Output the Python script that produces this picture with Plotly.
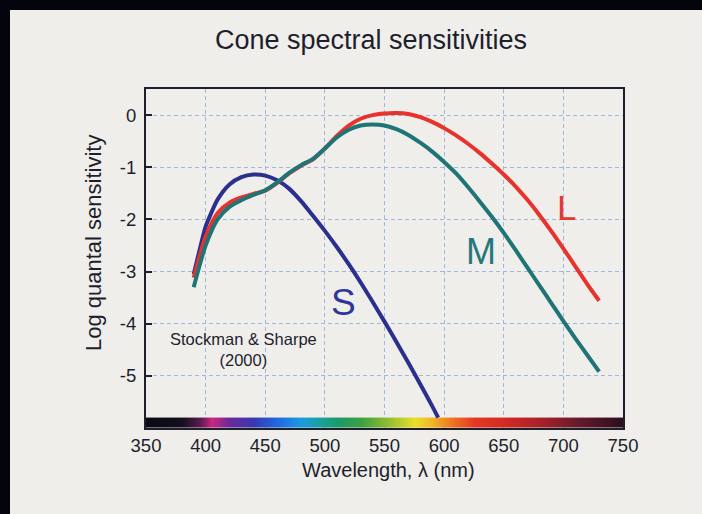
import plotly.graph_objects as go

# ---- data ----
nm_LM = [390, 395, 400, 410, 420, 430, 440, 450, 460, 470, 480, 490, 500, 510, 520, 530,
         540, 550, 560, 570, 580, 590, 600, 610, 620, 630, 640, 650, 660, 670, 680, 690,
         700, 710, 720, 730]
L_log = [-3.12, -2.70, -2.33, -1.88, -1.68, -1.58, -1.51, -1.45, -1.30, -1.12, -0.97, -0.85,
         -0.64, -0.40, -0.20, -0.07, 0.00, 0.03, 0.04, 0.02, -0.04, -0.13, -0.25, -0.39,
         -0.55, -0.73, -0.93, -1.14, -1.37, -1.63, -1.92, -2.23, -2.56, -2.90, -3.24, -3.56]
M_log = [-3.30, -2.88, -2.50, -2.00, -1.76, -1.63, -1.53, -1.44, -1.29, -1.11, -0.96, -0.84,
         -0.64, -0.43, -0.28, -0.20, -0.18, -0.20, -0.27, -0.38, -0.53, -0.70, -0.90, -1.12,
         -1.38, -1.66, -1.95, -2.26, -2.59, -2.93, -3.27, -3.61, -3.95, -4.28, -4.60, -4.92]
nm_S = [390, 395, 400, 405, 410, 420, 430, 440, 450, 460, 470, 480, 490, 500, 510, 520,
        530, 540, 550, 560, 570, 580, 590, 595]
S_log = [-3.05, -2.58, -2.14, -1.86, -1.62, -1.33, -1.19, -1.14, -1.16, -1.25, -1.41, -1.65,
         -1.93, -2.22, -2.53, -2.86, -3.21, -3.58, -3.96, -4.35, -4.75, -5.16, -5.58, -5.80]

x_ticks = [350, 400, 450, 500, 550, 600, 650, 700, 750]
y_ticks = [0, -1, -2, -3, -4, -5]
y_ticklabels = ["0", "-1", "-2", "-3", "-4", "-5"]

# spectrum strip (wavelength -> colour stops)
spectrum_nm = [350, 380, 395, 405, 420, 440, 460, 480, 495, 510, 530, 555, 575, 590, 605,
               625, 650, 680, 710, 750]
spectrum_col = ["#0a0a12", "#15101c", "#5a1a50", "#c8287c", "#6a2a9a", "#3838b0", "#1f6ae0",
                "#1e9ae0", "#1aa0a0", "#1c9a6a", "#3aa040", "#9ac030", "#e8e028", "#f2b428",
                "#ee7a22", "#e23a22", "#d42a22", "#a82228", "#6a1a2c", "#2a0e1c"]
strip_x = list(range(350, 751, 2))
strip_bottom, strip_height = -6.0, 0.2

colorscale = [[(w - 350) / 400, c] for w, c in zip(spectrum_nm, spectrum_col)]

fig = go.Figure()

fig.add_trace(go.Heatmap(
    x=strip_x, y0=strip_bottom + strip_height / 2, dy=strip_height, z=[strip_x],
    colorscale=colorscale, zmin=350, zmax=750, showscale=False,
    hoverinfo="skip", zsmooth="best"))

LW = 4
spl = dict(shape="spline", smoothing=0.7)
fig.add_trace(go.Scatter(x=nm_S, y=S_log, mode="lines", line=dict(color="#2b2f8e", width=LW, **spl), hoverinfo="skip"))
fig.add_trace(go.Scatter(x=nm_LM, y=L_log, mode="lines", line=dict(color="#e8322c", width=LW, **spl), hoverinfo="skip"))
fig.add_trace(go.Scatter(x=nm_LM, y=M_log, mode="lines", line=dict(color="#1f7576", width=LW, **spl), hoverinfo="skip"))

panel = "#efeeeb"
dark = "#04050c"
ink = "#1e1f2c"
grid = "#9db7e0"
FONT = "Liberation Sans, Arial, Helvetica, sans-serif"

fig.update_layout(
    width=702, height=514, autosize=False,
    margin=dict(l=146, r=79, t=89, b=86),
    paper_bgcolor=panel, plot_bgcolor=panel,
    showlegend=False,
    font=dict(family=FONT, color=ink, size=18),
    title=dict(text="Cone spectral sensitivities", x=371 / 702, xanchor="center",
               y=1 - 40 / 514, yanchor="middle", font=dict(size=27, color=ink, family=FONT)),
    xaxis=dict(range=[350, 750], tickvals=x_ticks, ticktext=[str(v) for v in x_ticks],
               showgrid=True, gridcolor=grid, griddash="4px,3px", gridwidth=1,
               showline=True, mirror=True, linecolor=ink, linewidth=2,
               ticks="", zeroline=False, tickfont=dict(size=18.5, color=ink)),
    yaxis=dict(range=[-6, 0.5], tickvals=y_ticks, ticktext=y_ticklabels,
               showgrid=True, gridcolor=grid, griddash="4px,3px", gridwidth=1,
               showline=True, mirror=True, linecolor=ink, linewidth=2,
               ticks="inside", ticklen=6, tickcolor=ink, tickwidth=1.5,
               zeroline=False, tickfont=dict(size=18.5, color=ink), ticklabelstandoff=4),
)

# dark surround (left and top strips)
fig.add_shape(type="rect", xref="paper", yref="paper",
              x0=(0 - 146) / 477, x1=(10 - 146) / 477, y0=(428 - 514) / 339, y1=(428 - 0) / 339,
              fillcolor=dark, line_width=0, layer="below")
fig.add_shape(type="rect", xref="paper", yref="paper",
              x0=(0 - 146) / 477, x1=(702 - 146) / 477, y0=(428 - 10) / 339, y1=(428 - 0) / 339,
              fillcolor=dark, line_width=0, layer="below")
# light panel on the right edge, drawn above everything
fig.add_shape(type="rect", xref="paper", yref="paper",
              x0=(660 - 146) / 477, x1=(710 - 146) / 477, y0=(428 - 520) / 339, y1=(428 - 10) / 339,
              fillcolor=panel, line_width=0, layer="above")

anns = [
    dict(text="S", x=516, y=-3.6, font=dict(size=37, color="#2d3796")),
    dict(text="M", x=631, y=-2.62, font=dict(size=36, color="#23787a")),
    dict(text="L", x=703, y=-1.77, font=dict(size=35, color="#e5392f")),
    dict(text="Stockman & Sharpe<br>(2000)", x=431.5, y=-4.5, font=dict(size=16.5, color=ink)),
]
for a in anns:
    fig.add_annotation(xref="x", yref="y", showarrow=False, xanchor="center", yanchor="middle",
                       font_family=FONT, **a)

fig.add_annotation(text="Wavelength, \u03bb (nm)", xref="paper", yref="paper",
                   x=(388 - 146) / 477, y=(428 - 470) / 339, showarrow=False,
                   xanchor="center", yanchor="middle", font=dict(size=20, color=ink, family=FONT))
fig.add_annotation(text="Log quantal sensitivity", xref="paper", yref="paper",
                   x=(93 - 146) / 477, y=(428 - 243) / 339, showarrow=False, textangle=-90,
                   xanchor="center", yanchor="middle", font=dict(size=22, color=ink, family=FONT))

fig.write_html("out.html", config={"displayModeBar": False},
               post_script="document.documentElement.style.overflow='hidden';"
                           "document.body.style.margin='0';document.body.style.overflow='hidden';"
                           "document.documentElement.style.background='#efeeeb';"
                           "document.body.style.background='#efeeeb';")
